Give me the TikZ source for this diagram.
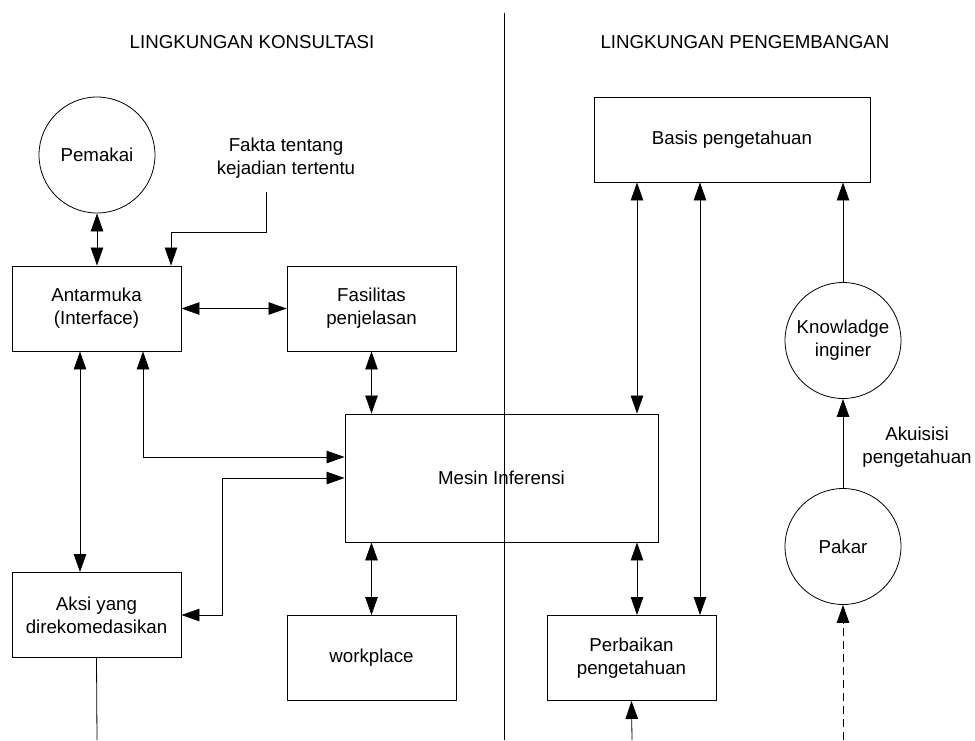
\documentclass[tikz,border=0pt]{standalone}
\usepackage{fontspec}
\setmainfont{Liberation Sans}
\usetikzlibrary{arrows.meta}
\tikzset{>={Triangle[length=18pt,width=12.5pt]}}
\tikzset{
  every node/.style={font=\fontsize{18.7}{23}\selectfont},
  kotak/.style={draw, line width=0.9pt, rectangle, minimum width=169pt, minimum height=85pt, align=center, inner sep=0pt},
  bulat/.style={draw, line width=0.8pt, circle, minimum size=116pt, align=center, inner sep=0pt},
  teks/.style={align=center, inner sep=0pt},
  garis/.style={line width=0.8pt}
}

\begin{document}
\begin{tikzpicture}[x=1pt, y=-1pt]

\useasboundingbox (0,0) rectangle (975,740);

% Judul
\node[teks] (judulkiri) at (252,42) {LINGKUNGAN KONSULTASI};
\node[teks] (judulkanan) at (745,42) {LINGKUNGAN PENGEMBANGAN};

% Pembatas
\draw[garis] (504,13) -- (504,740);

% Lingkungan konsultasi
\node[bulat] (pemakai) at (97,155) {Pemakai};
\node[teks] (fakta) at (286,158) {Fakta tentang\\kejadian tertentu};
\node[kotak] (antarmuka) at (96.5,308.5) {Antarmuka\\(Interface)};
\node[kotak] (fasilitas) at (371.5,308.5) {Fasilitas\\penjelasan};
\node[kotak, minimum width=313pt, minimum height=128pt] (mesin) at (501.5,478) {Mesin Inferensi};
\node[kotak] (aksi) at (96.5,615) {Aksi yang\\direkomedasikan};
\node[kotak] (workplace) at (371.5,658) {workplace};

% Lingkungan pengembangan
\node[kotak, minimum width=276pt] (basis) at (732,139.5) {Basis pengetahuan};
\node[kotak] (perbaikan) at (631.5,658) {Perbaikan\\pengetahuan};
\node[bulat] (knowladge) at (843,340.5) {Knowladge\\inginer};
\node[bulat] (pakar) at (843,546.5) {Pakar};
\node[teks] (akuisisi) at (917,447) {Akuisisi\\pengetahuan};

\coordinate (faktaend) at (266,192);
\coordinate (aksiend) at (97,740);
\coordinate (perbaikanin) at (632,740);
\coordinate (pakarin) at (843,740);

% Panah kiri
\draw[garis, <->] (pemakai.south) -- (pemakai.south |- antarmuka.north);
\draw[garis, ->] (faktaend) -- ++(0,40) -| ([xshift=74.5pt]antarmuka.north);
\draw[garis, <->] (antarmuka.east) -- (fasilitas.west);
\draw[garis, <->] (fasilitas.south) -- (fasilitas.south |- mesin.north);
\draw[garis, <->] ([xshift=46.5pt]antarmuka.south) |- ([yshift=21pt]mesin.west);
\draw[garis, <->] ([xshift=-16.5pt]antarmuka.south) -- ([xshift=-16.5pt]aksi.north);
\draw[garis, <->] (mesin.west) -- ++(-122,0) |- (aksi.east);
\draw[garis, <->] (workplace.north) -- (workplace.north |- mesin.south);
\draw[garis] (aksi.south) -- (aksiend);

% Panah kanan
\draw[garis, <->] ([xshift=-95pt]basis.south) -- ([xshift=-95pt]basis.south |- mesin.north);
\draw[garis, <->] ([xshift=-32pt]basis.south) -- ([xshift=-32pt]basis.south |- perbaikan.north);
\draw[garis, <->] ([xshift=5.5pt]perbaikan.north) -- ([xshift=5.5pt]perbaikan.north |- mesin.south);
\draw[garis, ->] (perbaikanin) -- (perbaikan.south);
\draw[garis, ->] (knowladge.north) -- (knowladge.north |- basis.south);
\draw[garis, ->] (pakar.north) -- (knowladge.south);
\draw[garis, ->, dash pattern=on 8pt off 5pt] (pakarin) -- (pakar.south);

\end{tikzpicture}
\end{document}
